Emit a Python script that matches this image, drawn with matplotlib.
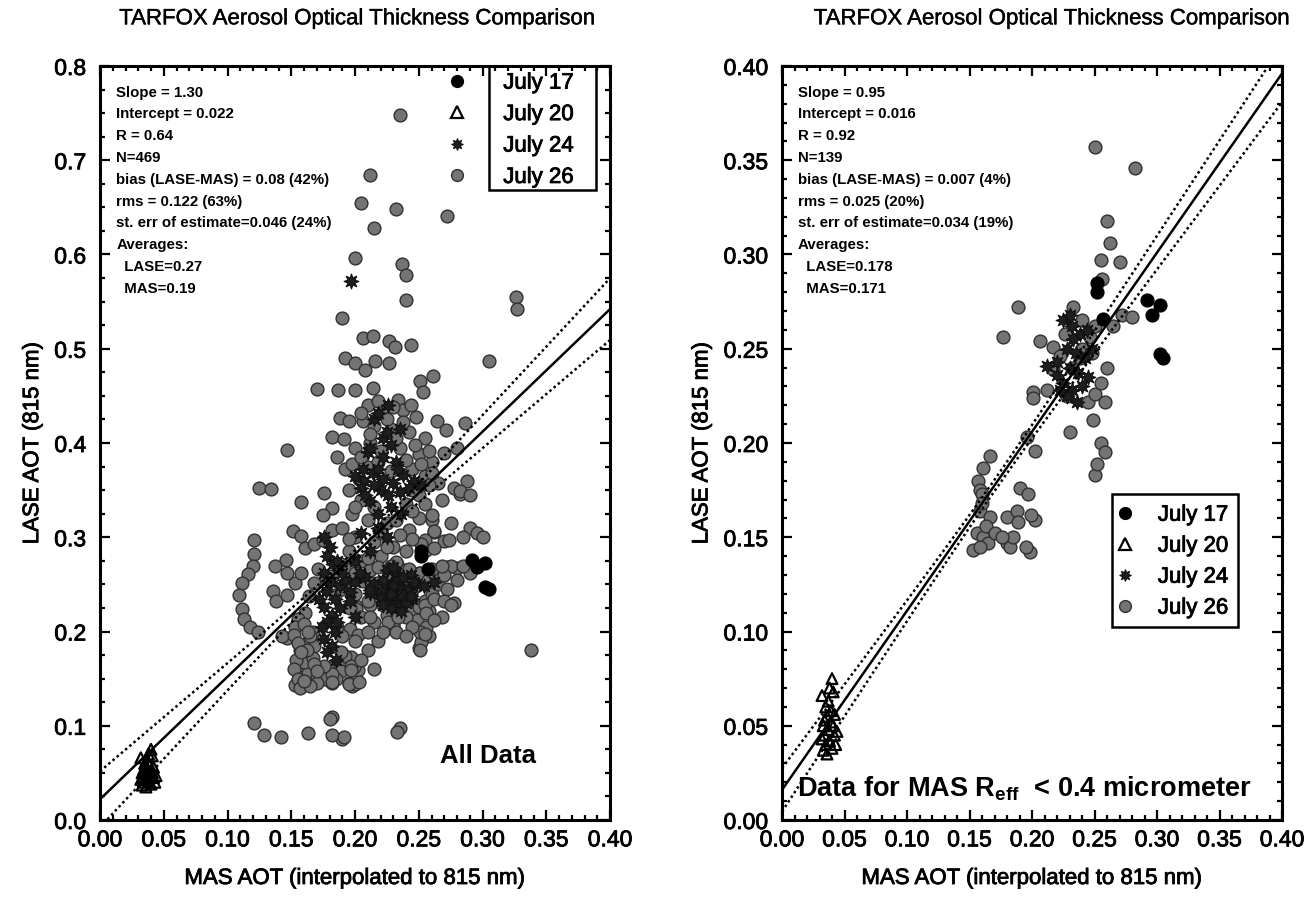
import numpy as np
import matplotlib
matplotlib.use("Agg")
import matplotlib.pyplot as plt
import matplotlib.patheffects as pe
from matplotlib.lines import Line2D
from matplotlib.patches import Rectangle
from matplotlib.ticker import MultipleLocator, FormatStrFormatter

plt.rcParams['font.family'] = ['Liberation Sans', 'DejaVu Sans']
plt.rcParams['mathtext.fontset'] = 'custom'
plt.rcParams['mathtext.rm'] = 'Liberation Sans'
plt.rcParams['mathtext.bf'] = 'Liberation Sans:bold'

# ---------------- data ----------------
# Fine-mode subset (MAS Reff < 0.4 um); these points also belong to "All Data"
jul17_x = [0.292, 0.296, 0.302, 0.302, 0.305, 0.252, 0.252, 0.257]
jul17_y = [0.276, 0.268, 0.273, 0.247, 0.245, 0.285, 0.280, 0.266]

jul20_x = [0.032, 0.035, 0.038, 0.040, 0.041, 0.036, 0.033, 0.034, 0.037, 0.039, 0.042, 0.043,
           0.035, 0.033, 0.038, 0.040, 0.036, 0.041, 0.039, 0.037, 0.034, 0.042, 0.044, 0.032]
jul20_y = [0.066, 0.060, 0.070, 0.075, 0.068, 0.055, 0.050, 0.045, 0.048, 0.052, 0.045, 0.040,
           0.040, 0.037, 0.042, 0.038, 0.035, 0.050, 0.058, 0.063, 0.053, 0.056, 0.047, 0.043]

jul24_fine_x = [0.225, 0.232, 0.238, 0.228, 0.235, 0.242, 0.220, 0.230, 0.237, 0.245, 0.225,
                0.232, 0.240, 0.228, 0.236, 0.212, 0.248, 0.233, 0.244, 0.220, 0.230, 0.222]
jul24_fine_y = [0.265, 0.262, 0.258, 0.250, 0.248, 0.245, 0.243, 0.240, 0.237, 0.235, 0.232,
                0.228, 0.230, 0.225, 0.222, 0.241, 0.250, 0.255, 0.260, 0.236, 0.268, 0.228]

jul26_fine_x = [0.250, 0.282, 0.260, 0.262, 0.255, 0.270, 0.256, 0.265, 0.272, 0.280,
                0.189, 0.233, 0.177, 0.206, 0.217, 0.217, 0.222, 0.240, 0.246, 0.250,
                0.201, 0.201, 0.212, 0.228, 0.230, 0.196, 0.202, 0.245, 0.250, 0.255,
                0.258, 0.255, 0.258, 0.250, 0.260, 0.248, 0.240, 0.232, 0.226, 0.238,
                0.166, 0.161, 0.157, 0.158, 0.160, 0.190, 0.197, 0.158, 0.166, 0.180,
                0.188, 0.189, 0.202, 0.156, 0.161, 0.165, 0.153, 0.158, 0.180, 0.182,
                0.198, 0.163, 0.170, 0.185, 0.195, 0.160, 0.176, 0.199, 0.252, 0.249]
jul26_fine_y = [0.357, 0.346, 0.318, 0.306, 0.297, 0.296, 0.287, 0.262, 0.268, 0.267,
                0.272, 0.272, 0.256, 0.254, 0.251, 0.239, 0.246, 0.265, 0.256, 0.262,
                0.227, 0.224, 0.228, 0.225, 0.206, 0.203, 0.196, 0.222, 0.226, 0.232,
                0.222, 0.200, 0.195, 0.183, 0.240, 0.248, 0.250, 0.240, 0.258, 0.245,
                0.193, 0.187, 0.180, 0.175, 0.173, 0.176, 0.173, 0.164, 0.161, 0.161,
                0.164, 0.158, 0.159, 0.152, 0.150, 0.147, 0.143, 0.145, 0.147, 0.145,
                0.142, 0.156, 0.152, 0.150, 0.145, 0.168, 0.150, 0.162, 0.189, 0.212]

# Remaining (coarse-mode) points that appear only in "All Data"
jul24_extra_x = [0.176, 0.180, 0.178, 0.183, 0.176, 0.181, 0.177, 0.184, 0.176, 0.182,
                 0.178, 0.184, 0.176, 0.182, 0.178, 0.185, 0.172, 0.188, 0.174, 0.188,
                 0.192, 0.200, 0.208, 0.215, 0.222, 0.230, 0.238, 0.246, 0.254, 0.262,
                 0.196, 0.212, 0.228, 0.244, 0.204,
                 0.200, 0.207, 0.214, 0.222, 0.230, 0.238, 0.246, 0.252, 0.205, 0.220,
                 0.235, 0.212, 0.228, 0.218, 0.236,
                 0.197, 0.215, 0.222, 0.228, 0.232, 0.222, 0.210, 0.226, 0.218, 0.205,
                 0.212, 0.225,
                 0.208, 0.215, 0.226, 0.242, 0.218, 0.206, 0.234, 0.212, 0.225, 0.235,
                 0.218, 0.190, 0.186, 0.200, 0.196, 0.186, 0.200]
jul24_extra_y = [0.300, 0.290, 0.280, 0.272, 0.262, 0.252, 0.243, 0.235, 0.226, 0.218,
                 0.210, 0.200, 0.192, 0.185, 0.178, 0.170, 0.235, 0.248, 0.205, 0.225,
                 0.255, 0.252, 0.258, 0.250, 0.255, 0.248, 0.258, 0.252, 0.248, 0.253,
                 0.242, 0.244, 0.240, 0.238, 0.262,
                 0.365, 0.360, 0.368, 0.362, 0.358, 0.366, 0.360, 0.355, 0.352, 0.350,
                 0.348, 0.338, 0.332, 0.325, 0.325,
                 0.572, 0.425, 0.405, 0.398, 0.380, 0.385, 0.390, 0.440, 0.310, 0.305,
                 0.285, 0.300,
                 0.345, 0.355, 0.345, 0.352, 0.372, 0.372, 0.372, 0.395, 0.412, 0.415,
                 0.432, 0.262, 0.275, 0.275, 0.232, 0.210, 0.215]

jul26_extra_x = [0.235, 0.212, 0.205, 0.232, 0.272, 0.215, 0.200, 0.237, 0.240, 0.240,
                 0.326, 0.327, 0.190, 0.206, 0.214, 0.227, 0.231, 0.244, 0.192, 0.200,
                 0.208, 0.216, 0.227, 0.305, 0.251, 0.261, 0.170, 0.187, 0.200, 0.214,
                 0.253, 0.234, 0.188, 0.195, 0.206, 0.182, 0.191, 0.212, 0.264, 0.271,
                 0.286, 0.186, 0.192, 0.203, 0.270, 0.265, 0.278, 0.288, 0.282, 0.260,
                 0.242, 0.252, 0.262, 0.274, 0.262, 0.232, 0.242, 0.251, 0.260, 0.275,
                 0.235, 0.244, 0.257, 0.278, 0.255, 0.256, 0.256, 0.251, 0.255, 0.251,
                 0.230, 0.338, 0.235, 0.233, 0.200, 0.192, 0.182, 0.197, 0.182, 0.190,
                 0.147, 0.125, 0.134, 0.158, 0.176, 0.182, 0.175, 0.151, 0.158, 0.121,
                 0.161, 0.168, 0.175, 0.182, 0.146, 0.137, 0.121, 0.120, 0.116, 0.111,
                 0.109, 0.111, 0.113, 0.118, 0.124, 0.136, 0.138, 0.147, 0.153, 0.147,
                 0.158, 0.168, 0.164, 0.171, 0.182, 0.184, 0.161, 0.155, 0.147, 0.143,
                 0.176, 0.182, 0.189, 0.197, 0.195, 0.203, 0.121, 0.129, 0.142, 0.163,
                 0.180, 0.182, 0.191,
                 0.153, 0.160, 0.167, 0.152, 0.155, 0.168, 0.154, 0.167, 0.152, 0.168,
                 0.155, 0.170, 0.157, 0.165, 0.162,
                 0.210, 0.222, 0.238, 0.248, 0.215, 0.228, 0.242, 0.255, 0.200, 0.220,
                 0.235, 0.250, 0.260, 0.198, 0.210, 0.245, 0.255, 0.195, 0.205, 0.250,
                 0.240, 0.198, 0.210, 0.225, 0.250, 0.190, 0.200, 0.215, 0.230, 0.240,
                 0.195, 0.205, 0.220, 0.212, 0.195, 0.200, 0.210, 0.222, 0.196, 0.205,
                 0.215, 0.225, 0.240, 0.232, 0.210, 0.218, 0.200, 0.210, 0.205, 0.215,
                 0.190, 0.186,
                 0.265, 0.272, 0.262, 0.270, 0.290, 0.285, 0.268, 0.262, 0.290, 0.296,
                 0.300, 0.285, 0.275, 0.280, 0.258, 0.268, 0.290, 0.275,
                 0.205, 0.218, 0.230, 0.244, 0.225, 0.238, 0.212, 0.232, 0.247, 0.205,
                 0.218, 0.240, 0.252, 0.228, 0.260, 0.245, 0.258, 0.200, 0.215, 0.245,
                 0.255, 0.232, 0.220, 0.245, 0.235, 0.225, 0.210, 0.228, 0.218, 0.195,
                 0.200, 0.190, 0.226, 0.234, 0.245, 0.240, 0.222, 0.212, 0.165, 0.158,
                 0.170, 0.163, 0.160, 0.270, 0.268, 0.280]
jul26_extra_y = [0.748, 0.684, 0.655, 0.648, 0.641, 0.628, 0.596, 0.590, 0.578, 0.552,
                 0.555, 0.542, 0.533, 0.511, 0.513, 0.508, 0.502, 0.504, 0.490, 0.485,
                 0.477, 0.487, 0.485, 0.487, 0.466, 0.471, 0.457, 0.456, 0.456, 0.458,
                 0.454, 0.446, 0.427, 0.423, 0.423, 0.406, 0.404, 0.400, 0.423, 0.414,
                 0.421, 0.385, 0.372, 0.362, 0.389, 0.358, 0.352, 0.360, 0.349, 0.324,
                 0.308, 0.293, 0.307, 0.297, 0.289, 0.274, 0.266, 0.262, 0.266, 0.270,
                 0.251, 0.241, 0.255, 0.230, 0.228, 0.220, 0.205, 0.199, 0.197, 0.180,
                 0.207, 0.180, 0.098, 0.093, 0.144, 0.174, 0.155, 0.163, 0.109, 0.086,
                 0.393, 0.352, 0.351, 0.337, 0.347, 0.331, 0.324, 0.307, 0.301, 0.297,
                 0.289, 0.293, 0.297, 0.308, 0.276, 0.270, 0.282, 0.270, 0.261, 0.251,
                 0.239, 0.224, 0.213, 0.205, 0.199, 0.243, 0.232, 0.239, 0.251, 0.262,
                 0.262, 0.251, 0.238, 0.266, 0.259, 0.239, 0.220, 0.213, 0.193, 0.195,
                 0.163, 0.146, 0.178, 0.159, 0.144, 0.146, 0.103, 0.090, 0.088, 0.092,
                 0.107, 0.090, 0.088,
                 0.205, 0.208, 0.200, 0.196, 0.188, 0.185, 0.170, 0.172, 0.160, 0.165,
                 0.150, 0.145, 0.140, 0.142, 0.180,
                 0.440, 0.432, 0.435, 0.428, 0.418, 0.415, 0.412, 0.405, 0.395, 0.392,
                 0.395, 0.388, 0.380, 0.378, 0.375, 0.372, 0.365, 0.350, 0.340, 0.345,
                 0.335, 0.325, 0.318, 0.315, 0.320, 0.310, 0.300, 0.295, 0.290, 0.285,
                 0.285, 0.275, 0.280, 0.265, 0.265, 0.240, 0.232, 0.228, 0.225, 0.215,
                 0.210, 0.218, 0.215, 0.200, 0.200, 0.190, 0.190, 0.180, 0.170, 0.160,
                 0.195, 0.205,
                 0.250, 0.245, 0.235, 0.232, 0.262, 0.270, 0.215, 0.212, 0.310, 0.305,
                 0.300, 0.300, 0.315, 0.395, 0.392, 0.340, 0.345, 0.228,
                 0.432, 0.445, 0.438, 0.440, 0.425, 0.422, 0.410, 0.405, 0.398, 0.385,
                 0.380, 0.382, 0.378, 0.370, 0.368, 0.350, 0.355, 0.332, 0.332, 0.328,
                 0.335, 0.318, 0.305, 0.298, 0.302, 0.290, 0.278, 0.270, 0.268, 0.298,
                 0.262, 0.245, 0.210, 0.215, 0.205, 0.195, 0.200, 0.215, 0.195, 0.178,
                 0.158, 0.200, 0.148, 0.260, 0.270, 0.255]

# Regression results printed in each panel
all_stats = ["Slope = 1.30", "Intercept = 0.022", "R = 0.64", "N=469",
             "bias (LASE-MAS) = 0.08 (42%)", "rms = 0.122 (63%)",
             "st. err of estimate=0.046 (24%)", "Averages:", "  LASE=0.27", "  MAS=0.19"]
fine_stats = ["Slope = 0.95", "Intercept = 0.016", "R = 0.92", "N=139",
              "bias (LASE-MAS) = 0.007 (4%)", "rms = 0.025 (20%)",
              "st. err of estimate=0.034 (19%)", "Averages:", "  LASE=0.178", "  MAS=0.171"]
all_fit = dict(slope=1.30, intercept=0.022, xmean=0.19, band_a=0.004, band_b=0.155)
fine_fit = dict(slope=0.95, intercept=0.016, xmean=0.171, band_a=0.003, band_b=0.065)

dates = ["July 17", "July 20", "July 24", "July 26"]

# ---------------- styles ----------------
STAR = (8, 1, 0)
styles = {
    "July 17": dict(marker='o', s=85, facecolor='black', edgecolor='black', linewidths=1.0),
    "July 20": dict(marker='^', s=60, facecolor='none', edgecolor='black', linewidths=1.6),
    "July 24": dict(marker=STAR, s=115, facecolor='#1e1e1e', edgecolor='#111111', linewidths=0.8),
    "July 26": dict(marker='o', s=85, facecolor='#747474', edgecolor='#303030', linewidths=1.0),
}

HEAVY = [pe.withStroke(linewidth=0.6, foreground='black')]
LABEL_FS = 16


def draw_panel(ax, series, fit, stats, ylim, ymajor, yminor, yfmt, title_x):
    for name in ["July 26", "July 24", "July 20", "July 17"]:
        xs, ys = series[name]
        ax.scatter(xs, ys, zorder=2, **styles[name])
    xx = np.linspace(0.0, 0.4, 200)
    yy = fit["slope"] * xx + fit["intercept"]
    half = np.sqrt(fit["band_a"] ** 2 + (fit["band_b"] * (xx - fit["xmean"])) ** 2)
    ax.plot(xx, yy, color='black', lw=1.8, zorder=4)
    ax.plot(xx, yy + half, color='black', lw=1.8, ls=(0, (1, 1.2)), zorder=4)
    ax.plot(xx, yy - half, color='black', lw=1.8, ls=(0, (1, 1.2)), zorder=4)

    ax.set_xlim(0, 0.4)
    ax.set_ylim(*ylim)
    ax.xaxis.set_major_locator(MultipleLocator(0.05))
    ax.xaxis.set_minor_locator(MultipleLocator(0.01))
    ax.yaxis.set_major_locator(MultipleLocator(ymajor))
    ax.yaxis.set_minor_locator(MultipleLocator(yminor))
    ax.xaxis.set_major_formatter(FormatStrFormatter('%.2f'))
    ax.yaxis.set_major_formatter(FormatStrFormatter(yfmt))
    ax.tick_params(which='both', direction='in', top=True, right=True, width=1.6)
    ax.tick_params(which='major', length=7, labelsize=16.5)
    ax.tick_params(axis='x', which='major', pad=6)
    ax.tick_params(axis='y', which='major', pad=10)
    ax.tick_params(which='minor', length=3.5)
    for lab in ax.get_xticklabels() + ax.get_yticklabels():
        lab.set_path_effects(HEAVY)
    for sp in ax.spines.values():
        sp.set_linewidth(2.2)

    t = ax.set_title("TARFOX Aerosol Optical Thickness Comparison", fontsize=LABEL_FS,
                     pad=30, x=title_x)
    t.set_path_effects([pe.withStroke(linewidth=0.3, foreground='black')])
    xl = ax.set_xlabel("MAS AOT (interpolated to 815 nm)", fontsize=LABEL_FS, labelpad=12)
    yl = ax.set_ylabel("LASE AOT (815 nm)", fontsize=LABEL_FS, labelpad=8)
    xl.set_path_effects(HEAVY)
    yl.set_path_effects(HEAVY)

    for i, line in enumerate(stats):
        ax.text(0.032, 0.974 - i * 0.0289, line, transform=ax.transAxes, fontsize=10.8,
                fontweight='bold', va='top', ha='left')


fig = plt.figure(figsize=(13.08, 8.98), dpi=100)
ax1 = fig.add_axes([100 / 1308, 78 / 898, 510 / 1308, 754 / 898])
ax2 = fig.add_axes([782 / 1308, 78 / 898, 500 / 1308, 754 / 898])

all_series = {
    "July 17": (jul17_x, jul17_y),
    "July 20": (jul20_x, jul20_y),
    "July 24": (jul24_fine_x + jul24_extra_x, jul24_fine_y + jul24_extra_y),
    "July 26": (jul26_fine_x + jul26_extra_x, jul26_fine_y + jul26_extra_y),
}
fine_series = {
    "July 17": (jul17_x, jul17_y),
    "July 20": (jul20_x, jul20_y),
    "July 24": (jul24_fine_x, jul24_fine_y),
    "July 26": (jul26_fine_x, jul26_fine_y),
}

draw_panel(ax1, all_series, all_fit, all_stats, (0, 0.8), 0.1, 0.025, '%.1f', 0.505)
draw_panel(ax2, fine_series, fine_fit, fine_stats, (0, 0.4), 0.05, 0.01, '%.2f', 0.54)

ax1.text(0.76, 0.085, "All Data", transform=ax1.transAxes, fontsize=18.5,
         fontweight='bold', ha='center', va='center')
ax2.text(0.485, 0.042, r"Data for MAS R$_{\mathbf{eff}}$  < 0.4 micrometer",
         transform=ax2.transAxes, fontsize=19.5, fontweight='bold', ha='center', va='center')


def legend_handles():
    hs = []
    for name in dates:
        st = styles[name]
        hs.append(Line2D([], [], ls='none', marker=st['marker'], markersize=8.5,
                         markerfacecolor=st['facecolor'], markeredgecolor=st['edgecolor'],
                         markeredgewidth=st['linewidths'], label=name))
    return hs


# Left legend: frame drawn around the labels only
leg1 = ax1.legend(handles=legend_handles(), loc='upper left', bbox_to_anchor=(0.66, 1.003),
                  frameon=False, fontsize=16, handlelength=1.0, handletextpad=1.6,
                  labelspacing=0.47, borderaxespad=0)
for txt in leg1.get_texts():
    txt.set_path_effects(HEAVY)
ax1.add_patch(Rectangle((0.762, 0.835), 0.21, 0.165, transform=ax1.transAxes,
                        fill=False, lw=1.8, edgecolor='black', zorder=5, clip_on=False))

# Right legend with a full frame
leg2 = ax2.legend(handles=legend_handles(), loc='upper left', bbox_to_anchor=(0.645, 0.43),
                  frameon=False, fontsize=16, handlelength=1.0, handletextpad=1.0,
                  labelspacing=0.45, borderaxespad=0)
for txt in leg2.get_texts():
    txt.set_path_effects(HEAVY)
ax2.add_patch(Rectangle((0.66, 0.256), 0.252, 0.176, transform=ax2.transAxes,
                        fill=True, facecolor='white', lw=1.8, edgecolor='black', zorder=1.5))

fig.savefig("out.png", dpi=100)
